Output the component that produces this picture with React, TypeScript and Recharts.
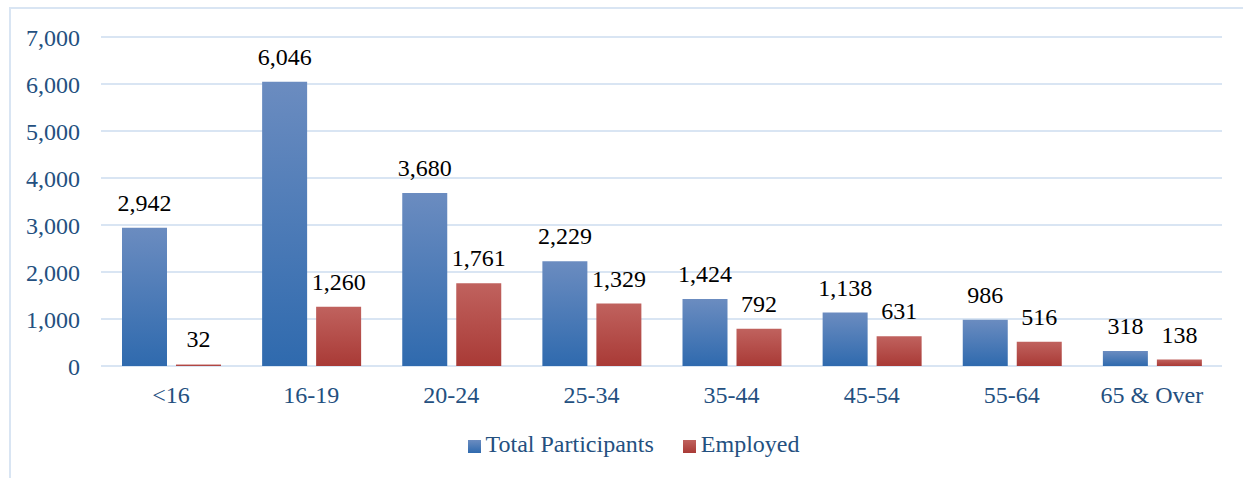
import { Bar, BarChart, CartesianGrid, LabelList, Legend, XAxis, YAxis } from 'recharts';

const ageGroups = ['<16', '16-19', '20-24', '25-34', '35-44', '45-54', '55-64', '65 & Over'];
const totalParticipants = [2942, 6046, 3680, 2229, 1424, 1138, 986, 318];
const employed = [32, 1260, 1761, 1329, 792, 631, 516, 138];
const yTicks = [0, 1000, 2000, 3000, 4000, 5000, 6000, 7000];

const FONT = "'Times New Roman', 'Liberation Serif', serif";
const AXIS_COLOR = '#24507f';
const GRID_COLOR = '#d9e5f3';

const fmt = (v: number) => v.toLocaleString('en-US');

// value label drawn above each bar, 17px gap between baseline and bar top
function ValueLabel(props: any) {
  const { x, y, width, value } = props;
  return (
    <text
      x={Number(x) + Number(width) / 2}
      y={Number(y) - 17}
      textAnchor="middle"
      fill="#000"
      fontSize={24}
      fontFamily={FONT}
      style={{ fontFamily: FONT }}
    >
      {fmt(Number(value))}
    </text>
  );
}

function LegendBox() {
  const items = [
    { label: 'Total Participants', css: 'linear-gradient(#6b8cc0, #2f6aae)' },
    { label: 'Employed', css: 'linear-gradient(#c0625e, #a93a36)' },
  ];
  return (
    <div
      style={{
        display: 'flex',
        justifyContent: 'center',
        paddingLeft: 24,
        fontFamily: FONT,
        fontSize: 24,
        color: AXIS_COLOR,
        lineHeight: '30px',
      }}
    >
      {items.map((it, i) => (
        <div key={it.label} style={{ display: 'flex', alignItems: 'center', marginLeft: i ? 29 : 0 }}>
          <span style={{ width: 13, height: 13, background: it.css, marginRight: 5, marginTop: 4 }} />
          <span>{it.label}</span>
        </div>
      ))}
    </div>
  );
}

export default function App() {
  const data = ageGroups.map((name, i) => ({
    name,
    total: totalParticipants[i],
    employed: employed[i],
  }));

  return (
    <div style={{ position: 'fixed', left: 0, top: 0, width: 1243, height: 478, overflow: 'hidden', background: '#fff' }}>
      <div
        style={{
          position: 'absolute',
          left: 9,
          top: 7,
          width: 1260,
          height: 500,
          borderLeft: `2px solid ${GRID_COLOR}`,
          borderTop: `2px solid ${GRID_COLOR}`,
        }}
      />
      <div style={{ position: 'absolute', left: 0, top: 0 }}>
        <BarChart
          width={1243}
          height={478}
          data={data}
          margin={{ top: 37, right: 21, left: 0, bottom: 32 }}
          barSize={45}
          barGap={9}
          style={{ fontFamily: FONT }}
        >
          <defs>
            <linearGradient id="blueGrad" x1="0" y1="0" x2="0" y2="1">
              <stop offset="0%" stopColor="#6b8cc0" />
              <stop offset="100%" stopColor="#2f6aae" />
            </linearGradient>
            <linearGradient id="redGrad" x1="0" y1="0" x2="0" y2="1">
              <stop offset="0%" stopColor="#c0625e" />
              <stop offset="100%" stopColor="#a93a36" />
            </linearGradient>
          </defs>
          <CartesianGrid vertical={false} stroke={GRID_COLOR} strokeWidth={2} />
          <XAxis
            dataKey="name"
            axisLine={false}
            tickLine={false}
            tickSize={0}
            tickMargin={20}
            height={50}
            interval={0}
            tick={{ fill: AXIS_COLOR, fontSize: 24, fontFamily: FONT }}
          />
          <YAxis
            width={101}
            domain={[0, 7000]}
            ticks={yTicks}
            axisLine={false}
            tickLine={false}
            tickSize={0}
            tickMargin={21}
            tickFormatter={fmt}
            tick={{ fill: AXIS_COLOR, fontSize: 24, fontFamily: FONT }}
          />
          <Legend
            content={() => <LegendBox />}
            wrapperStyle={{ position: 'absolute', top: 429, left: 0, width: 1243, height: 30 }}
          />
          <Bar dataKey="total" name="Total Participants" fill="url(#blueGrad)" isAnimationActive={false}>
            <LabelList dataKey="total" content={ValueLabel} />
          </Bar>
          <Bar dataKey="employed" name="Employed" fill="url(#redGrad)" isAnimationActive={false}>
            <LabelList dataKey="employed" content={ValueLabel} />
          </Bar>
        </BarChart>
      </div>
    </div>
  );
}
